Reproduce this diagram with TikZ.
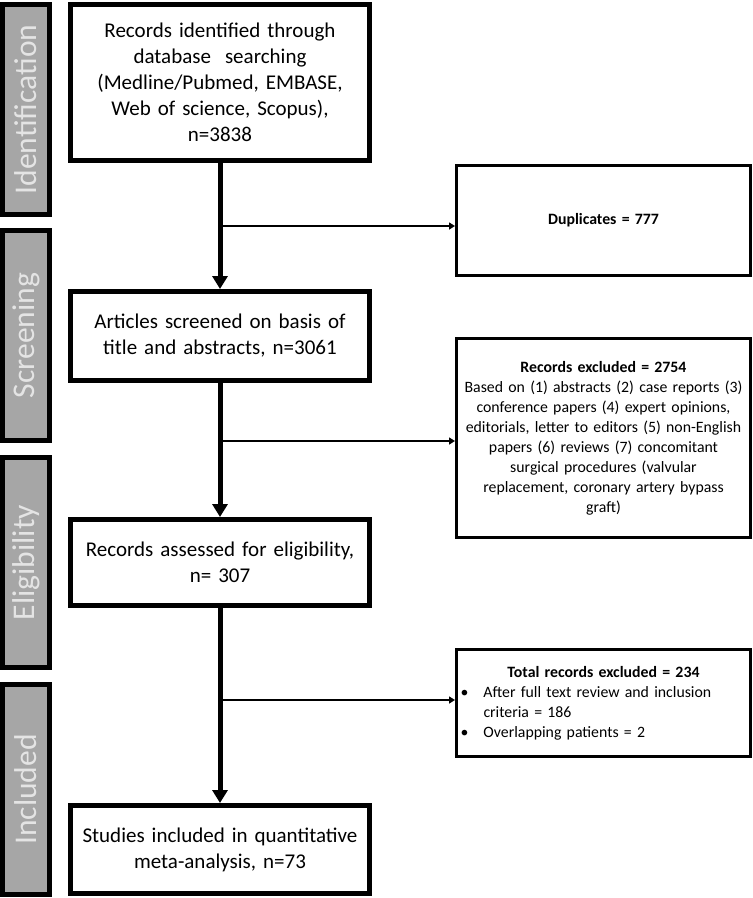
\documentclass[tikz,border=0pt]{standalone}
\usepackage{fontspec}
\setmainfont{Carlito}
\usetikzlibrary{arrows.meta,positioning}
\definecolor{barfill}{RGB}{166,166,166}
\definecolor{bartext}{RGB}{228,228,228}
\tikzset{
    stagebar/.style={
        draw=black,line width=5pt,fill=barfill,text=bartext,
        rotate=90,minimum width=210pt,minimum height=47pt,inner sep=0pt,
        font=\fontsize{31.6}{35}\selectfont
    },
    mainbox/.style={
        draw=black,line width=5pt,fill=white,
        minimum width=299pt,text width=285pt,align=center,inner sep=0pt,
        font=\fontsize{21}{26}\selectfont
    },
    sidebox/.style={
        draw=black,line width=3pt,fill=white,
        minimum width=294pt,text width=288pt,inner sep=0pt,
        font=\fontsize{15.8}{20}\selectfont
    },
    mainflow/.style={line width=5pt,-{Triangle[width=15pt,length=13pt]}},
    sideflow/.style={line width=2pt,-{Triangle[width=7pt,length=6pt]}},
}
\newcommand{\bul}{\makebox[23pt][l]{\textbullet}}

\begin{document}
\begin{tikzpicture}[x=1pt,y=-1pt]
    \useasboundingbox (0,0) rectangle (753,898);
    % stages on the left
    \foreach \lab/\yc [count=\n] in {Identification/109.5,Screening/335.5,Eligibility/562.5,Included/789.5} {
        \node[stagebar] (bar\n) at (26,\yc) {\lab};
    }
    % main column
    \node[mainbox,minimum height=156pt] (ident) at (220,82.5) {Records identified through\\
        database\ \ searching\\ (Medline/Pubmed, EMBASE,\\ Web of science, Scopus),\\ n=3838};
    \node[mainbox,minimum height=89pt] (screen) at (220,336) {Articles screened on basis of\\
        title and abstracts, n=3061};
    \node[mainbox,minimum height=86pt] (elig) at (220,562.5) {Records assessed for eligibility,\\ n= 307};
    \node[mainbox,minimum height=88pt] (incl) at (220,849.5) {Studies included in quantitative\\
        meta-analysis, n=73};
    % exclusions on the right
    \node[sidebox,align=center,minimum height=110pt] (dup) at (603.5,220.5) {\textbf{Duplicates = 777}};
    \node[sidebox,align=center,minimum height=199pt] (excl) at (603.5,438) {\textbf{Records excluded = 2754}\\
        Based on (1) abstracts (2) case reports (3)\\
        conference papers (4) expert opinions,\\
        editorials, letter to editors (5) non-English\\
        papers (6) reviews (7) concomitant\\
        surgical procedures (valvular\\
        replacement, coronary artery bypass\\
        graft)};
    \node[sidebox,align=left,minimum height=107pt] (total) at (603.5,703) {\makebox[\linewidth][c]{\textbf{Total records excluded = 234}}\\
        \hspace*{1pt}\bul After full text review and inclusion\\
        \hspace*{24pt}criteria = 186\\
        \hspace*{1pt}\bul Overlapping patients = 2};
    % flow
    \draw[mainflow] (ident) -- (screen);
    \draw[mainflow] (screen) -- (elig);
    \draw[mainflow] (elig) -- (incl);
    \coordinate (fork1) at (220,226);
    \coordinate (fork2) at (220,441);
    \coordinate (fork3) at (220,700);
    \draw[sideflow] (fork1) -- (fork1 -| dup.west);
    \draw[sideflow] (fork2) -- (fork2 -| excl.west);
    \draw[sideflow] (fork3) -- (fork3 -| total.west);
\end{tikzpicture}
\end{document}
